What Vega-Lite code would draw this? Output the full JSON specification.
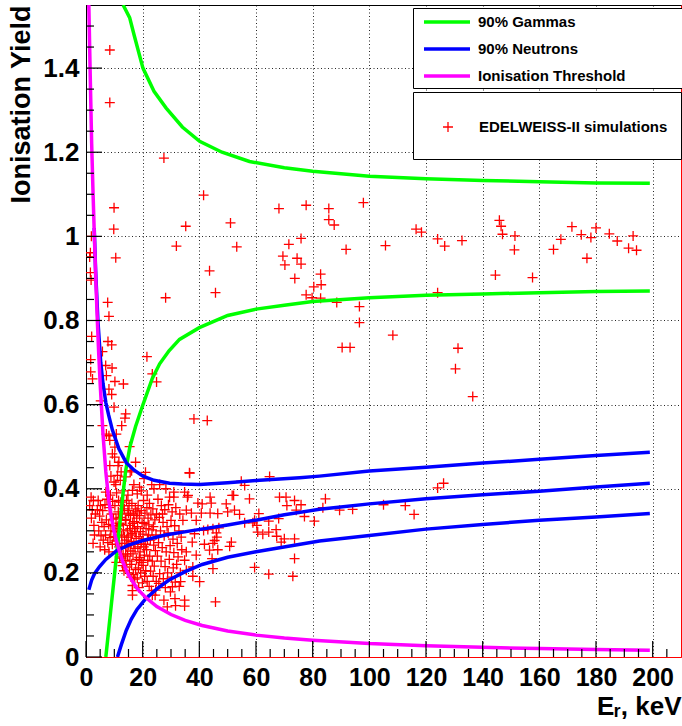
{
  "$schema": "https://vega.github.io/schema/vega-lite/v6.json",
  "width": 595,
  "height": 652,
  "autosize": {"type": "none"},
  "padding": {"left": 86, "top": 5, "right": 1, "bottom": 69},
  "background": "#ffffff",
  "config": {
    "view": {"stroke": "#ff0000", "strokeWidth": 1},
    "font": "Liberation Sans"
  },
  "datasets": {
    "xmajor": [{"v":0},{"v":20},{"v":40},{"v":60},{"v":80},{"v":100},{"v":120},{"v":140},{"v":160},{"v":180},{"v":200}],
    "xminor": [{"v":5},{"v":10},{"v":15},{"v":25},{"v":30},{"v":35},{"v":45},{"v":50},{"v":55},{"v":65},{"v":70},{"v":75},{"v":85},{"v":90},{"v":95},{"v":105},{"v":110},{"v":115},{"v":125},{"v":130},{"v":135},{"v":145},{"v":150},{"v":155},{"v":165},{"v":170},{"v":175},{"v":185},{"v":190},{"v":195},{"v":205}],
    "ymajor": [{"v":0},{"v":0.2},{"v":0.4},{"v":0.6},{"v":0.8},{"v":1},{"v":1.2},{"v":1.4}],
    "yminor": [{"v":0.05},{"v":0.1},{"v":0.15},{"v":0.25},{"v":0.3},{"v":0.35},{"v":0.45},{"v":0.5},{"v":0.55},{"v":0.65},{"v":0.7},{"v":0.75},{"v":0.85},{"v":0.9},{"v":0.95},{"v":1.05},{"v":1.1},{"v":1.15},{"v":1.25},{"v":1.3},{"v":1.35},{"v":1.45},{"v":1.5}],
    "pts": [
      {"x":8.4,"y":1.443},{"x":8.4,"y":1.318},{"x":27.5,"y":1.186},{"x":41.5,"y":1.098},{"x":9.9,"y":1.068},{"x":9.8,"y":1.017},{"x":35.2,"y":1.024},{"x":51,"y":1.032},{"x":31.9,"y":0.977},{"x":53.2,"y":0.975},{"x":1.9,"y":1.0},{"x":68.1,"y":1.066},{"x":1.55,"y":0.961},{"x":1.3,"y":0.951},{"x":10.5,"y":0.949},{"x":69.5,"y":0.953},{"x":70.2,"y":0.932},{"x":43.6,"y":0.918},{"x":1.55,"y":0.914},{"x":1.8,"y":0.896},{"x":45.7,"y":0.866},{"x":28.1,"y":0.854},{"x":7.65,"y":0.843},{"x":8.1,"y":0.81},{"x":2.0,"y":0.762},{"x":7.76,"y":0.75},{"x":9.06,"y":0.742},{"x":5.8,"y":0.726},{"x":1.66,"y":0.707},{"x":21.5,"y":0.714},{"x":6.95,"y":0.693},{"x":9.2,"y":0.687},{"x":1.66,"y":0.678},{"x":7.2,"y":0.669},{"x":2.3,"y":0.661},{"x":23.4,"y":0.673},{"x":24.9,"y":0.654},{"x":10.2,"y":0.655},{"x":13.2,"y":0.649},{"x":8.1,"y":0.637},{"x":9.06,"y":0.624},{"x":5.2,"y":0.609},{"x":9.9,"y":0.594},{"x":14.0,"y":0.578},{"x":13.75,"y":0.568},{"x":5.8,"y":0.55},{"x":12.6,"y":0.55},{"x":38.1,"y":0.566},{"x":42.8,"y":0.562},{"x":8.1,"y":0.526},{"x":7.2,"y":0.53},{"x":10.7,"y":0.53},{"x":8.4,"y":0.515},{"x":10.2,"y":0.499},{"x":15.4,"y":0.5},{"x":9.3,"y":0.483},{"x":10.1,"y":0.475},{"x":11.6,"y":0.463},{"x":17.5,"y":0.463},{"x":8.4,"y":0.455},{"x":11.3,"y":0.455},{"x":16.1,"y":0.443},{"x":21,"y":0.439},{"x":36.5,"y":0.438},{"x":11.1,"y":0.432},{"x":14,"y":0.428},{"x":20.5,"y":0.424},{"x":9.9,"y":0.416},{"x":18.9,"y":0.404},{"x":24,"y":0.4},{"x":16.4,"y":0.396},{"x":18.1,"y":0.388},
      {"x":77.7,"y":1.074},{"x":85.7,"y":1.066},{"x":85.7,"y":1.04},{"x":87.6,"y":1.027},{"x":97.9,"y":1.08},{"x":75.9,"y":0.995},{"x":71.6,"y":0.981},{"x":74.5,"y":0.948},{"x":75.9,"y":0.934},{"x":91.8,"y":0.969},{"x":73.7,"y":0.9},{"x":82.8,"y":0.91},{"x":83,"y":0.885},{"x":80.4,"y":0.88},{"x":77.7,"y":0.861},{"x":79.8,"y":0.854},{"x":82.8,"y":0.853},{"x":88.5,"y":0.843},{"x":96.5,"y":0.833},{"x":96.5,"y":0.795},{"x":90.4,"y":0.736},{"x":93.2,"y":0.736},{"x":108.3,"y":0.765},{"x":105.7,"y":0.978},{"x":116.5,"y":1.017},{"x":118.4,"y":1.01},{"x":124.1,"y":0.994},{"x":126.6,"y":0.977},{"x":132.7,"y":0.99},{"x":124.1,"y":0.866},{"x":131.3,"y":0.734},{"x":130.4,"y":0.685},{"x":136.5,"y":0.619},{"x":145.9,"y":1.038},{"x":146.5,"y":1.024},{"x":147,"y":1.005},{"x":151.4,"y":1.001},{"x":151.2,"y":0.968},{"x":144.5,"y":0.908},{"x":157.6,"y":0.902},{"x":165,"y":0.969},{"x":167.6,"y":0.993},{"x":171.5,"y":1.023},{"x":174.8,"y":1.004},{"x":178.2,"y":0.997},{"x":180,"y":1.02},{"x":176.8,"y":0.948},{"x":184.7,"y":1.006},{"x":187.5,"y":0.989},{"x":193.1,"y":1.001},{"x":191.5,"y":0.972},{"x":194.3,"y":0.967},
      {"x":36.6,"y":0.437},{"x":54.8,"y":0.418},{"x":56,"y":0.408},{"x":64.8,"y":0.429},{"x":34.8,"y":0.392},{"x":36,"y":0.384},{"x":43.8,"y":0.38},{"x":44.2,"y":0.366},{"x":52.1,"y":0.384},{"x":57.7,"y":0.376},{"x":49.5,"y":0.364},{"x":39.5,"y":0.366},{"x":41,"y":0.364},{"x":35.4,"y":0.349},{"x":37.2,"y":0.342},{"x":40.7,"y":0.342},{"x":43.8,"y":0.342},{"x":46.5,"y":0.341},{"x":50,"y":0.345},{"x":52.4,"y":0.349},{"x":54.2,"y":0.339},{"x":61,"y":0.341},{"x":68.3,"y":0.38},{"x":70.6,"y":0.38},{"x":70.9,"y":0.36},{"x":73.6,"y":0.372},{"x":75.9,"y":0.362},{"x":74.2,"y":0.349},{"x":77.1,"y":0.334},{"x":80.6,"y":0.323},{"x":84.5,"y":0.376},{"x":83.6,"y":0.355},{"x":34.2,"y":0.325},{"x":38.9,"y":0.325},{"x":59.5,"y":0.325},{"x":64.5,"y":0.323},{"x":68,"y":0.329},{"x":56,"y":0.319},{"x":58.9,"y":0.319},{"x":60.3,"y":0.313},{"x":41.5,"y":0.301},{"x":43,"y":0.303},{"x":44.8,"y":0.305},{"x":46.9,"y":0.307},{"x":46,"y":0.295},{"x":38.3,"y":0.293},{"x":60.6,"y":0.297},{"x":62.4,"y":0.292},{"x":64.5,"y":0.297},{"x":67.1,"y":0.303},{"x":67.3,"y":0.287},{"x":70,"y":0.281},{"x":68.9,"y":0.273},{"x":73.6,"y":0.281},{"x":37.5,"y":0.273},{"x":45.4,"y":0.277},{"x":44.8,"y":0.27},{"x":51.3,"y":0.273},{"x":50.7,"y":0.263},{"x":41.8,"y":0.268},{"x":46.2,"y":0.285},{"x":35.4,"y":0.25},{"x":38.9,"y":0.242},{"x":43.6,"y":0.254},{"x":46.5,"y":0.255},{"x":44.5,"y":0.234},{"x":34.8,"y":0.23},{"x":73.6,"y":0.234},{"x":37.7,"y":0.214},{"x":44.8,"y":0.21},{"x":59.5,"y":0.213},{"x":35.4,"y":0.206},{"x":37.7,"y":0.192},{"x":64.5,"y":0.197},{"x":73,"y":0.192},{"x":40.1,"y":0.179},{"x":34.8,"y":0.135},{"x":34.8,"y":0.121},{"x":45.7,"y":0.131},{"x":89.5,"y":0.349},{"x":94.1,"y":0.351},{"x":105,"y":0.362},{"x":112.7,"y":0.36},{"x":115.8,"y":0.339},{"x":124.1,"y":0.402},{"x":126.2,"y":0.413},{"x":51.6,"y":0.384},{"x":31,"y":0.38},{"x":35.8,"y":0.38},
      {"x":16.4,"y":0.147},{"x":16.4,"y":0.158},{"x":23.4,"y":0.147},{"x":24.6,"y":0.159},{"x":30.5,"y":0.167},{"x":33.4,"y":0.179},{"x":27.5,"y":0.135},{"x":31.4,"y":0.139},{"x":28.7,"y":0.119},{"x":31.6,"y":0.122},
      {"x":10.2,"y":0.36},{"x":11.4,"y":0.345},{"x":10.6,"y":0.33},{"x":11.8,"y":0.318},{"x":10.9,"y":0.305},{"x":11.2,"y":0.29},{"x":10.4,"y":0.276},{"x":11.7,"y":0.262},{"x":11.0,"y":0.25},{"x":11.9,"y":0.238},{"x":10.7,"y":0.225},{"x":11.5,"y":0.372},{"x":10.3,"y":0.298},{"x":11.3,"y":0.312},
      {"x":12.3,"y":0.368},{"x":13.5,"y":0.352},{"x":12.8,"y":0.34},{"x":13.9,"y":0.327},{"x":12.1,"y":0.315},{"x":13.2,"y":0.302},{"x":12.6,"y":0.288},{"x":13.7,"y":0.27},{"x":12.4,"y":0.258},{"x":13.1,"y":0.243},{"x":13.8,"y":0.23},{"x":12.9,"y":0.217},{"x":13.4,"y":0.205},{"x":12.2,"y":0.332},{"x":13.6,"y":0.285},{"x":12.7,"y":0.27},{"x":13.3,"y":0.36},{"x":12.5,"y":0.235},
      {"x":14.3,"y":0.372},{"x":15.2,"y":0.36},{"x":14.8,"y":0.348},{"x":15.7,"y":0.337},{"x":14.1,"y":0.325},{"x":15.4,"y":0.313},{"x":14.6,"y":0.3},{"x":15.9,"y":0.29},{"x":14.4,"y":0.278},{"x":15.1,"y":0.266},{"x":15.8,"y":0.252},{"x":14.7,"y":0.24},{"x":15.5,"y":0.228},{"x":14.2,"y":0.214},{"x":15.3,"y":0.2},{"x":15.9,"y":0.19},{"x":14.9,"y":0.285},{"x":15.6,"y":0.305},{"x":14.5,"y":0.262},{"x":15.0,"y":0.342},{"x":14.0,"y":0.245},
      {"x":16.2,"y":0.365},{"x":17.4,"y":0.352},{"x":16.8,"y":0.34},{"x":17.9,"y":0.33},{"x":16.5,"y":0.318},{"x":17.1,"y":0.306},{"x":16.3,"y":0.294},{"x":17.7,"y":0.282},{"x":16.9,"y":0.27},{"x":17.3,"y":0.258},{"x":16.6,"y":0.245},{"x":17.8,"y":0.232},{"x":16.1,"y":0.22},{"x":17.5,"y":0.208},{"x":16.7,"y":0.196},{"x":17.2,"y":0.185},{"x":16.4,"y":0.17},{"x":17.6,"y":0.298},{"x":16.0,"y":0.275},{"x":17.0,"y":0.322},
      {"x":18.4,"y":0.36},{"x":19.5,"y":0.348},{"x":18.9,"y":0.336},{"x":19.8,"y":0.32},{"x":18.2,"y":0.31},{"x":19.2,"y":0.298},{"x":18.7,"y":0.286},{"x":19.6,"y":0.275},{"x":18.3,"y":0.262},{"x":19.1,"y":0.25},{"x":18.8,"y":0.237},{"x":19.7,"y":0.225},{"x":18.5,"y":0.212},{"x":19.3,"y":0.2},{"x":18.1,"y":0.188},{"x":19.9,"y":0.176},{"x":18.6,"y":0.165},{"x":19.4,"y":0.268},{"x":18.0,"y":0.345},{"x":19.0,"y":0.23},
      {"x":20.3,"y":0.372},{"x":21.5,"y":0.355},{"x":20.8,"y":0.342},{"x":21.9,"y":0.33},{"x":20.5,"y":0.318},{"x":21.2,"y":0.305},{"x":20.1,"y":0.292},{"x":21.7,"y":0.28},{"x":20.9,"y":0.268},{"x":21.4,"y":0.255},{"x":20.6,"y":0.242},{"x":21.8,"y":0.23},{"x":20.2,"y":0.218},{"x":21.1,"y":0.205},{"x":20.7,"y":0.192},{"x":21.6,"y":0.18},{"x":20.4,"y":0.262},
      {"x":22.4,"y":0.365},{"x":23.6,"y":0.352},{"x":22.9,"y":0.338},{"x":24.3,"y":0.326},{"x":22.2,"y":0.314},{"x":23.3,"y":0.302},{"x":24.7,"y":0.29},{"x":22.7,"y":0.278},{"x":23.9,"y":0.266},{"x":24.5,"y":0.253},{"x":22.5,"y":0.24},{"x":23.4,"y":0.228},{"x":24.1,"y":0.216},{"x":22.8,"y":0.204},{"x":23.7,"y":0.192},{"x":24.8,"y":0.18},{"x":22.3,"y":0.168},{"x":23.1,"y":0.158},{"x":24.4,"y":0.147},{"x":23.8,"y":0.31},{"x":22.1,"y":0.29},{"x":24.9,"y":0.34},
      {"x":25.4,"y":0.375},{"x":26.6,"y":0.36},{"x":27.8,"y":0.35},{"x":29.1,"y":0.362},{"x":30.4,"y":0.345},{"x":31.7,"y":0.355},{"x":33.1,"y":0.34},{"x":25.9,"y":0.332},{"x":27.2,"y":0.32},{"x":28.6,"y":0.31},{"x":30.0,"y":0.325},{"x":31.3,"y":0.312},{"x":32.8,"y":0.3},{"x":26.3,"y":0.3},{"x":27.6,"y":0.288},{"x":29.0,"y":0.295},{"x":30.7,"y":0.28},{"x":32.2,"y":0.27},{"x":33.6,"y":0.285},{"x":25.6,"y":0.272},{"x":26.9,"y":0.26},{"x":28.3,"y":0.25},{"x":29.7,"y":0.265},{"x":31.0,"y":0.248},{"x":32.5,"y":0.238},{"x":33.8,"y":0.255},{"x":25.2,"y":0.24},{"x":26.5,"y":0.228},{"x":27.9,"y":0.215},{"x":29.4,"y":0.232},{"x":30.8,"y":0.212},{"x":32.0,"y":0.22},{"x":33.3,"y":0.2},{"x":26.0,"y":0.198},{"x":27.3,"y":0.186},{"x":28.8,"y":0.2},{"x":30.2,"y":0.19},{"x":31.5,"y":0.178},{"x":28.0,"y":0.165},{"x":29.8,"y":0.155},{"x":25.7,"y":0.175},{"x":32.9,"y":0.168},{"x":27.0,"y":0.34},{"x":29.5,"y":0.38},{"x":31.0,"y":0.392},{"x":28.2,"y":0.4},{"x":26.0,"y":0.41},
      {"x":4.3,"y":0.372},{"x":5.1,"y":0.36},{"x":5.9,"y":0.348},{"x":6.7,"y":0.362},{"x":7.4,"y":0.375},{"x":8.2,"y":0.355},{"x":9.0,"y":0.34},{"x":9.7,"y":0.328},{"x":4.8,"y":0.335},{"x":5.6,"y":0.32},{"x":6.4,"y":0.31},{"x":7.2,"y":0.326},{"x":8.0,"y":0.315},{"x":8.8,"y":0.3},{"x":9.5,"y":0.312},{"x":4.5,"y":0.3},{"x":5.3,"y":0.288},{"x":6.1,"y":0.278},{"x":6.9,"y":0.29},{"x":7.7,"y":0.272},{"x":8.5,"y":0.284},{"x":9.3,"y":0.268},{"x":5.0,"y":0.262},{"x":6.6,"y":0.255},{"x":8.1,"y":0.25},{"x":9.8,"y":0.286},{"x":7.0,"y":0.392},{"x":8.6,"y":0.385},{"x":9.4,"y":0.37},{"x":4.0,"y":0.35},
      {"x":1.3,"y":0.36},{"x":1.8,"y":0.38},{"x":2.2,"y":0.35},{"x":2.6,"y":0.372},{"x":1.9,"y":0.33},{"x":2.8,"y":0.313},{"x":3.3,"y":0.34},{"x":3.0,"y":0.29},{"x":2.5,"y":0.27},
      {"x":8.8,"y":0.43},{"x":10.5,"y":0.41},{"x":12.1,"y":0.42},{"x":13.0,"y":0.395},{"x":14.8,"y":0.385},{"x":16.9,"y":0.41},{"x":19.5,"y":0.395},{"x":21.6,"y":0.385},{"x":23.2,"y":0.41},{"x":12.4,"y":0.44},{"x":15.6,"y":0.44},{"x":10.8,"y":0.39}
    ],
    "curves": [
      {"curve":"g1","series":"90% Gammas","x":13.1,"y":1.55},{"curve":"g1","series":"90% Gammas","x":15.4,"y":1.52},{"curve":"g1","series":"90% Gammas","x":17,"y":1.478},{"curve":"g1","series":"90% Gammas","x":20.1,"y":1.4},{"curve":"g1","series":"90% Gammas","x":24,"y":1.345},{"curve":"g1","series":"90% Gammas","x":28.3,"y":1.305},{"curve":"g1","series":"90% Gammas","x":34,"y":1.26},{"curve":"g1","series":"90% Gammas","x":40.1,"y":1.226},{"curve":"g1","series":"90% Gammas","x":48,"y":1.2},{"curve":"g1","series":"90% Gammas","x":57.7,"y":1.178},{"curve":"g1","series":"90% Gammas","x":70,"y":1.163},{"curve":"g1","series":"90% Gammas","x":80,"y":1.155},{"curve":"g1","series":"90% Gammas","x":100,"y":1.143},{"curve":"g1","series":"90% Gammas","x":120,"y":1.137},{"curve":"g1","series":"90% Gammas","x":140,"y":1.133},{"curve":"g1","series":"90% Gammas","x":160,"y":1.13},{"curve":"g1","series":"90% Gammas","x":180,"y":1.127},{"curve":"g1","series":"90% Gammas","x":199,"y":1.126},
      {"curve":"g2","series":"90% Gammas","x":7,"y":0},{"curve":"g2","series":"90% Gammas","x":8,"y":0.064},{"curve":"g2","series":"90% Gammas","x":9,"y":0.128},{"curve":"g2","series":"90% Gammas","x":10,"y":0.192},{"curve":"g2","series":"90% Gammas","x":11,"y":0.256},{"curve":"g2","series":"90% Gammas","x":12,"y":0.32},{"curve":"g2","series":"90% Gammas","x":13,"y":0.384},{"curve":"g2","series":"90% Gammas","x":14,"y":0.443},{"curve":"g2","series":"90% Gammas","x":15.5,"y":0.5},{"curve":"g2","series":"90% Gammas","x":17.5,"y":0.548},{"curve":"g2","series":"90% Gammas","x":20,"y":0.598},{"curve":"g2","series":"90% Gammas","x":23.4,"y":0.662},{"curve":"g2","series":"90% Gammas","x":26,"y":0.697},{"curve":"g2","series":"90% Gammas","x":29.3,"y":0.728},{"curve":"g2","series":"90% Gammas","x":33,"y":0.755},{"curve":"g2","series":"90% Gammas","x":40,"y":0.783},{"curve":"g2","series":"90% Gammas","x":50,"y":0.812},{"curve":"g2","series":"90% Gammas","x":60,"y":0.827},{"curve":"g2","series":"90% Gammas","x":70,"y":0.836},{"curve":"g2","series":"90% Gammas","x":80,"y":0.845},{"curve":"g2","series":"90% Gammas","x":100,"y":0.854},{"curve":"g2","series":"90% Gammas","x":120,"y":0.86},{"curve":"g2","series":"90% Gammas","x":140,"y":0.863},{"curve":"g2","series":"90% Gammas","x":160,"y":0.866},{"curve":"g2","series":"90% Gammas","x":180,"y":0.869},{"curve":"g2","series":"90% Gammas","x":199,"y":0.87},
      {"curve":"n1","series":"90% Neutrons","x":2.9,"y":1.02},{"curve":"n1","series":"90% Neutrons","x":3.4,"y":0.918},{"curve":"n1","series":"90% Neutrons","x":4.2,"y":0.8},{"curve":"n1","series":"90% Neutrons","x":5.2,"y":0.7},{"curve":"n1","series":"90% Neutrons","x":6,"y":0.65},{"curve":"n1","series":"90% Neutrons","x":7,"y":0.605},{"curve":"n1","series":"90% Neutrons","x":8,"y":0.575},{"curve":"n1","series":"90% Neutrons","x":9.3,"y":0.54},{"curve":"n1","series":"90% Neutrons","x":11.6,"y":0.495},{"curve":"n1","series":"90% Neutrons","x":14.2,"y":0.462},{"curve":"n1","series":"90% Neutrons","x":17,"y":0.444},{"curve":"n1","series":"90% Neutrons","x":20.1,"y":0.43},{"curve":"n1","series":"90% Neutrons","x":24,"y":0.42},{"curve":"n1","series":"90% Neutrons","x":29.5,"y":0.413},{"curve":"n1","series":"90% Neutrons","x":34,"y":0.411},{"curve":"n1","series":"90% Neutrons","x":40.1,"y":0.41},{"curve":"n1","series":"90% Neutrons","x":50,"y":0.414},{"curve":"n1","series":"90% Neutrons","x":61.3,"y":0.42},{"curve":"n1","series":"90% Neutrons","x":75.4,"y":0.426},{"curve":"n1","series":"90% Neutrons","x":82.4,"y":0.43},{"curve":"n1","series":"90% Neutrons","x":100,"y":0.442},{"curve":"n1","series":"90% Neutrons","x":120,"y":0.451},{"curve":"n1","series":"90% Neutrons","x":140,"y":0.461},{"curve":"n1","series":"90% Neutrons","x":160,"y":0.47},{"curve":"n1","series":"90% Neutrons","x":180,"y":0.479},{"curve":"n1","series":"90% Neutrons","x":199,"y":0.487},
      {"curve":"n2","series":"90% Neutrons","x":1.0,"y":0.16},{"curve":"n2","series":"90% Neutrons","x":2,"y":0.183},{"curve":"n2","series":"90% Neutrons","x":3,"y":0.198},{"curve":"n2","series":"90% Neutrons","x":4.8,"y":0.215},{"curve":"n2","series":"90% Neutrons","x":7,"y":0.232},{"curve":"n2","series":"90% Neutrons","x":10.7,"y":0.252},{"curve":"n2","series":"90% Neutrons","x":15,"y":0.266},{"curve":"n2","series":"90% Neutrons","x":20.1,"y":0.277},{"curve":"n2","series":"90% Neutrons","x":28,"y":0.29},{"curve":"n2","series":"90% Neutrons","x":38,"y":0.301},{"curve":"n2","series":"90% Neutrons","x":50,"y":0.314},{"curve":"n2","series":"90% Neutrons","x":61.3,"y":0.327},{"curve":"n2","series":"90% Neutrons","x":70,"y":0.338},{"curve":"n2","series":"90% Neutrons","x":82.4,"y":0.351},{"curve":"n2","series":"90% Neutrons","x":100,"y":0.364},{"curve":"n2","series":"90% Neutrons","x":120,"y":0.376},{"curve":"n2","series":"90% Neutrons","x":140,"y":0.386},{"curve":"n2","series":"90% Neutrons","x":160,"y":0.394},{"curve":"n2","series":"90% Neutrons","x":180,"y":0.404},{"curve":"n2","series":"90% Neutrons","x":199,"y":0.413},
      {"curve":"n3","series":"90% Neutrons","x":11.1,"y":0},{"curve":"n3","series":"90% Neutrons","x":12.5,"y":0.03},{"curve":"n3","series":"90% Neutrons","x":14.2,"y":0.063},{"curve":"n3","series":"90% Neutrons","x":16,"y":0.09},{"curve":"n3","series":"90% Neutrons","x":18,"y":0.113},{"curve":"n3","series":"90% Neutrons","x":21,"y":0.138},{"curve":"n3","series":"90% Neutrons","x":25,"y":0.162},{"curve":"n3","series":"90% Neutrons","x":29.3,"y":0.183},{"curve":"n3","series":"90% Neutrons","x":35,"y":0.203},{"curve":"n3","series":"90% Neutrons","x":41,"y":0.22},{"curve":"n3","series":"90% Neutrons","x":50,"y":0.237},{"curve":"n3","series":"90% Neutrons","x":60,"y":0.25},{"curve":"n3","series":"90% Neutrons","x":70.4,"y":0.262},{"curve":"n3","series":"90% Neutrons","x":82.4,"y":0.276},{"curve":"n3","series":"90% Neutrons","x":100,"y":0.289},{"curve":"n3","series":"90% Neutrons","x":120,"y":0.304},{"curve":"n3","series":"90% Neutrons","x":140,"y":0.315},{"curve":"n3","series":"90% Neutrons","x":160,"y":0.325},{"curve":"n3","series":"90% Neutrons","x":180,"y":0.333},{"curve":"n3","series":"90% Neutrons","x":199,"y":0.341},
      {"curve":"m","series":"Ionisation Threshold","x":1.0,"y":1.55},{"curve":"m","series":"Ionisation Threshold","x":1.5,"y":1.38},{"curve":"m","series":"Ionisation Threshold","x":2.0,"y":1.22},{"curve":"m","series":"Ionisation Threshold","x":2.5,"y":1.1},{"curve":"m","series":"Ionisation Threshold","x":3.0,"y":0.99},{"curve":"m","series":"Ionisation Threshold","x":3.5,"y":0.89},{"curve":"m","series":"Ionisation Threshold","x":4.0,"y":0.8},{"curve":"m","series":"Ionisation Threshold","x":4.5,"y":0.72},{"curve":"m","series":"Ionisation Threshold","x":5.0,"y":0.65},{"curve":"m","series":"Ionisation Threshold","x":6.0,"y":0.53},{"curve":"m","series":"Ionisation Threshold","x":7.0,"y":0.44},{"curve":"m","series":"Ionisation Threshold","x":8.0,"y":0.375},{"curve":"m","series":"Ionisation Threshold","x":9.0,"y":0.33},{"curve":"m","series":"Ionisation Threshold","x":10,"y":0.295},{"curve":"m","series":"Ionisation Threshold","x":11.5,"y":0.258},{"curve":"m","series":"Ionisation Threshold","x":13,"y":0.226},{"curve":"m","series":"Ionisation Threshold","x":15,"y":0.195},{"curve":"m","series":"Ionisation Threshold","x":18,"y":0.163},{"curve":"m","series":"Ionisation Threshold","x":21,"y":0.142},{"curve":"m","series":"Ionisation Threshold","x":25,"y":0.12},{"curve":"m","series":"Ionisation Threshold","x":30,"y":0.101},{"curve":"m","series":"Ionisation Threshold","x":35,"y":0.087},{"curve":"m","series":"Ionisation Threshold","x":41,"y":0.075},{"curve":"m","series":"Ionisation Threshold","x":50,"y":0.062},{"curve":"m","series":"Ionisation Threshold","x":60,"y":0.052},{"curve":"m","series":"Ionisation Threshold","x":70,"y":0.045},{"curve":"m","series":"Ionisation Threshold","x":80,"y":0.04},{"curve":"m","series":"Ionisation Threshold","x":100,"y":0.032},{"curve":"m","series":"Ionisation Threshold","x":120,"y":0.027},{"curve":"m","series":"Ionisation Threshold","x":140,"y":0.023},{"curve":"m","series":"Ionisation Threshold","x":160,"y":0.02},{"curve":"m","series":"Ionisation Threshold","x":180,"y":0.018},{"curve":"m","series":"Ionisation Threshold","x":199,"y":0.016}
    ]
  },
  "layer": [
    {
      "data": {"name": "pts"},
      "mark": {"type": "point", "shape": "M-1,0L1,0M0,-1L0,1", "filled": false, "size": 100, "strokeWidth": 1.3, "opacity": 1, "clip": true},
      "encoding": {
        "x": {
          "field": "x", "type": "quantitative",
          "scale": {"domain": [0, 210], "nice": false, "zero": false},
          "axis": {
            "orient": "bottom",
            "values": [0,20,40,60,80,100,120,140,160,180,200],
            "format": "d",
            "labelFlush": false, "labelOverlap": false, "labelBound": false,
            "labelFont": "Liberation Sans", "labelFontSize": 25, "labelFontWeight": "bold", "labelColor": "#000000",
            "labelPadding": 8,
            "domainColor": "#ff0000", "domainWidth": 1,
            "ticks": false,
            "grid": true, "gridColor": "#000000", "gridDash": [1, 2.5], "gridWidth": 1, "gridOpacity": 0.85,
            "title": "Eᵣ, keV",
            "titleFont": "Liberation Sans", "titleFontSize": 26, "titleFontWeight": "bold", "titleColor": "#000000",
            "titleAnchor": "end", "titlePadding": 3
          }
        },
        "y": {
          "field": "y", "type": "quantitative",
          "scale": {"domain": [0, 1.55], "nice": false, "zero": false},
          "axis": {
            "orient": "left",
            "values": [0,0.2,0.4,0.6,0.8,1,1.2,1.4],
            "format": "~g",
            "labelOverlap": false, "labelBound": false, "labelFlush": false,
            "labelFont": "Liberation Sans", "labelFontSize": 26, "labelFontWeight": "bold", "labelColor": "#000000",
            "labelPadding": 7,
            "domainColor": "#000000", "domainWidth": 1,
            "ticks": false,
            "grid": true, "gridColor": "#000000", "gridDash": [1, 2.5], "gridWidth": 1, "gridOpacity": 0.85,
            "title": "Ionisation Yield",
            "titleFont": "Liberation Sans", "titleFontSize": 27, "titleFontWeight": "bold", "titleColor": "#000000",
            "titleAnchor": "end", "titlePadding": 7
          }
        },
        "color": {
          "datum": "EDELWEISS-II simulations",
          "scale": {"domain": ["EDELWEISS-II simulations"], "range": ["#ff0000"]},
          "legend": {
            "orient": "none", "legendX": 327, "legendY": 87,
            "title": null,
            "symbolType": "M-0.185,0L0.185,0M0,-0.185L0,0.185M0,0.8L0,0.8M8.26,0L8.26,0",
            "symbolSize": 2916, "symbolStrokeWidth": 1.3, "symbolFillColor": "transparent",
            "symbolOffset": 0,
            "labelOffset": 3,
            "labelLimit": 400,
            "labelFont": "Liberation Sans", "labelFontSize": 15, "labelFontWeight": "bold", "labelColor": "#000000",
            "padding": 7,
            "strokeColor": "#000000", "fillColor": "#ffffff"
          }
        }
      }
    },
    {
      "data": {"name": "curves"},
      "mark": {"type": "line", "strokeWidth": 3.5, "clip": true},
      "encoding": {
        "x": {
          "field": "x", "type": "quantitative",
          "scale": {"domain": [0, 210], "nice": false, "zero": false},
          "axis": {"orient": "top", "labels": false, "ticks": false, "grid": false, "domain": true, "domainColor": "#000000", "title": null}
        },
        "y": {"field": "y", "type": "quantitative", "axis": null},
        "detail": {"field": "curve"},
        "color": {
          "field": "series", "type": "nominal",
          "scale": {"domain": ["90% Gammas", "90% Neutrons", "Ionisation Threshold"], "range": ["#00ff00", "#0000ff", "#ff00ff"]},
          "legend": {
            "orient": "none", "legendX": 327, "legendY": 3,
            "title": null,
            "symbolType": "M-2.875,0L2.875,0M28.25,0L28.25,0", "symbolSize": 256, "symbolStrokeWidth": 3.5,
            "symbolOffset": 20,
            "labelOffset": 21,
            "labelLimit": 400,
            "labelFont": "Liberation Sans", "labelFontSize": 15, "labelFontWeight": "bold", "labelColor": "#000000",
            "padding": 4, "rowPadding": 9,
            "strokeColor": "#000000", "fillColor": "#ffffff"
          }
        }
      }
    },
    {
      "data": {"name": "xmajor"},
      "mark": {"type": "rule", "color": "#000000", "strokeWidth": 1.2},
      "encoding": {
        "x": {"field": "v", "type": "quantitative", "axis": null},
        "y": {"datum": 0, "axis": null},
        "y2": {"datum": 0.038}
      }
    },
    {
      "data": {"name": "xminor"},
      "mark": {"type": "rule", "color": "#000000", "strokeWidth": 1.2},
      "encoding": {
        "x": {"field": "v", "type": "quantitative", "axis": null},
        "y": {"datum": 0, "axis": null},
        "y2": {"datum": 0.019}
      }
    },
    {
      "data": {"name": "ymajor"},
      "mark": {"type": "rule", "color": "#000000", "strokeWidth": 1.2},
      "encoding": {
        "y": {"field": "v", "type": "quantitative", "axis": null},
        "x": {"datum": 0, "axis": null},
        "x2": {"datum": 5.65}
      }
    },
    {
      "data": {"name": "yminor"},
      "mark": {"type": "rule", "color": "#000000", "strokeWidth": 1.2},
      "encoding": {
        "y": {"field": "v", "type": "quantitative", "axis": null},
        "x": {"datum": 0, "axis": null},
        "x2": {"datum": 2.82}
      }
    }
  ],
  "resolve": {"scale": {"color": "independent"}, "axis": {"x": "independent", "y": "independent"}}
}
